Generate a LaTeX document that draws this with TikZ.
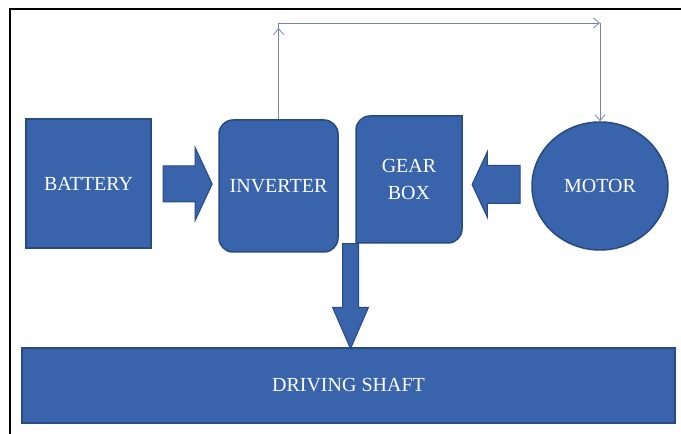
\documentclass[tikz,border=0pt]{standalone}
\usepackage{fontspec}
\setmainfont{Liberation Serif}
\usetikzlibrary{shapes.geometric,shapes.arrows,arrows.meta}
\definecolor{boxblue}{RGB}{57,99,171}
\definecolor{boxedge}{RGB}{40,74,130}
\definecolor{linkgray}{RGB}{120,134,158}

\begin{document}
\begin{tikzpicture}[x=1pt, y=1pt,
  block/.style = {fill=boxblue, draw=boxedge, line width=1.5pt, text=white,
    font=\fontsize{20}{27}\selectfont, align=center, inner sep=0pt},
  fat/.style = {single arrow, fill=boxblue, draw=boxedge, line width=1pt, inner xsep=0pt},
  wire/.style = {draw=linkgray, line width=0.8pt},
  link/.style = {wire, -{Straight Barb[length=6pt,width=10pt]}}]
\useasboundingbox (0,0) rectangle (681,434);
\draw[line width=1.5pt] (10,0) -- (10,425) -- (681,425);

% blocks
\node[block, minimum width=125pt, minimum height=129pt] (battery) at (88.5,250.5) {BATTERY};
\node[block, rounded corners=14pt, minimum width=119pt, minimum height=132pt] (inverter) at (278.5,248) {INVERTER};
\filldraw[fill=boxblue, draw=boxedge, line width=1.5pt] (356,191) -- (356,304)
  arc[start angle=180, end angle=90, radius=14] -- (462,318) -- (462,205)
  arc[start angle=0, end angle=-90, radius=14] -- cycle;
\node[block, fill=none, draw=none, minimum width=106pt, minimum height=127pt] (gear) at (409,254.5) {GEAR\\BOX};
\node[block, ellipse, minimum width=136pt, minimum height=128pt] (motor) at (600,248) {MOTOR};
\node[block, minimum width=653pt, minimum height=75pt] (shaft) at (348.5,48.5) {DRIVING SHAFT};

% fat arrows
\node[fat, inner ysep=17.5pt, minimum height=49pt, single arrow head extend=18.5pt,
  single arrow tip angle=130] (batinv) at (183.5,250) {};
\node[fat, rotate=180, inner ysep=18.5pt, minimum height=48pt, single arrow head extend=14pt,
  single arrow tip angle=130] (motgear) at (500.5,249.5) {};
\node[fat, rotate=-90, inner ysep=7.5pt, minimum height=105pt, single arrow head extend=10pt,
  single arrow tip angle=47] (gearshaft) at (350.5,147) {};

% feedback line
\coordinate (topline) at (0,411);
\coordinate (c1) at (inverter.north |- topline);
\coordinate (c2) at (motor.north |- topline);
\draw[wire] (inverter.north) -- (c1);
\draw[link] (inverter.north) -- ([yshift=-5pt]c1);
\draw[link] (c1) -- (c2);
\draw[link] (c2) -- (motor.north);
\end{tikzpicture}
\end{document}
